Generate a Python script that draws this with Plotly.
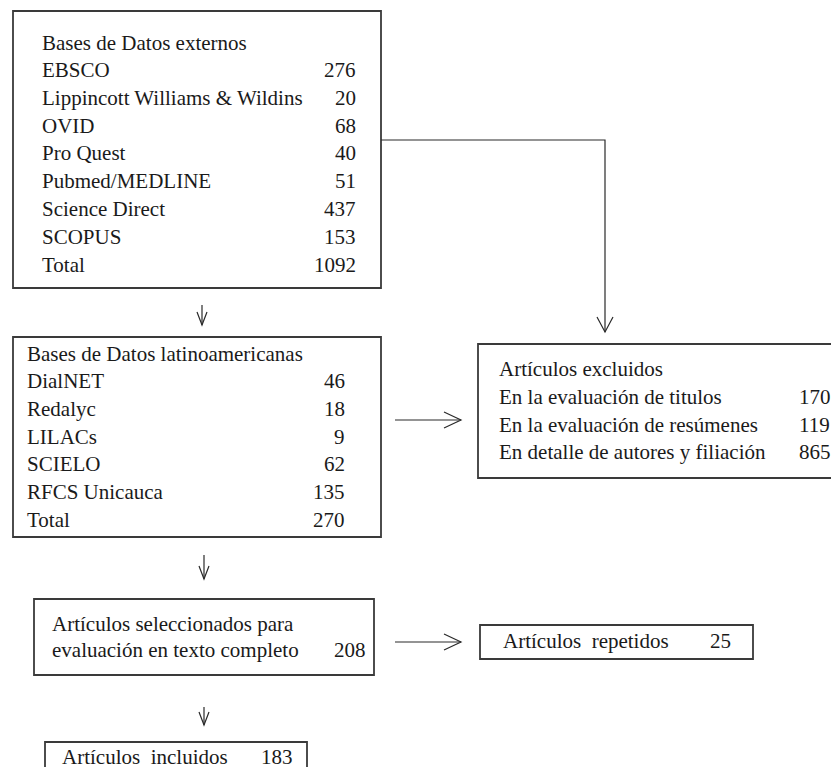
import plotly.graph_objects as go

# ---------------- data ----------------
ext_title = "Bases de Datos externos"
ext_names = ["EBSCO", "Lippincott Williams & Wildins", "OVID", "Pro Quest",
             "Pubmed/MEDLINE", "Science Direct", "SCOPUS", "Total"]
ext_values = [276, 20, 68, 40, 51, 437, 153, 1092]

lat_title = "Bases de Datos latinoamericanas"
lat_names = ["DialNET", "Redalyc", "LILACs", "SCIELO", "RFCS Unicauca", "Total"]
lat_values = [46, 18, 9, 62, 135, 270]

excl_title = "Artículos excluidos"
excl_names = ["En la evaluación de titulos", "En la evaluación de resúmenes",
              "En detalle de autores y filiación"]
excl_values = [170, 119, 865]

sel_lines = ["Artículos seleccionados para", "evaluación en texto completo"]
sel_value = 208
rep_label = "Artículos  repetidos"
rep_value = 25
inc_label = "Artículos  incluidos"
inc_value = 183

# ---------------- style ----------------
W, H = 831, 767
FONT = "Liberation Serif, Times New Roman, serif"
FS = 21
TXT = "#1a1a1a"
BOX = "#3a3a3a"
LINE = "#2a2a2a"

fig = go.Figure()
shapes = []
ann = []


def box(x0, y0, x1, y1):
    shapes.append(dict(type="rect", x0=x0, y0=y0, x1=x1, y1=y1,
                       line=dict(color=BOX, width=1.8), fillcolor="rgba(0,0,0,0)"))


def seg(pts):
    path = "M " + " L ".join(f"{x},{y}" for x, y in pts)
    shapes.append(dict(type="path", path=path, line=dict(color=LINE, width=1.2)))


def arrow_down(x, y0, y1):
    seg([(x, y0), (x, y1)])
    seg([(x - 5, y1 - 13), (x, y1), (x + 5, y1 - 13)])


def arrow_right(y, x0, x1):
    seg([(x0, y), (x1, y)])
    seg([(x1 - 17, y - 8), (x1, y), (x1 - 17, y + 8)])


def text(x, y, s, anchor="left"):
    ann.append(dict(x=x, y=y, text=s, showarrow=False, xanchor=anchor, yanchor="middle",
                    font=dict(family=FONT, size=FS, color=TXT)))


# Box 1: external databases
box(13, 11, 381, 288)
text(40, 43, ext_title)
for i, (n, v) in enumerate(zip(ext_names, ext_values)):
    y = 70 + i * 27.8
    text(40, y, n)
    text(358, y, str(v), "right")

# Box 2: latin american databases
box(13, 337, 381, 537)
text(25, 354, lat_title)
for i, (n, v) in enumerate(zip(lat_names, lat_values)):
    y = 381 + i * 27.8
    text(25, y, n)
    text(347, y, str(v), "right")

# Box excluded
box(478, 344, 840, 478)
text(497, 369, excl_title)
for i, (n, v) in enumerate(zip(excl_names, excl_values)):
    y = 397 + i * 27.6
    text(497, y, n)
    text(797, y, str(v))

# Box selected
box(34, 599, 374, 675)
text(50, 624, sel_lines[0])
text(50, 650, sel_lines[1])
text(368, 650, str(sel_value), "right")

# Box repeated
box(480, 625, 753, 659)
text(501, 641, rep_label)
text(708, 641, str(rep_value))

# Box included
box(45, 742, 307, 800)
text(60, 757, inc_label)
text(259, 757, str(inc_value))

# connectors
seg([(381, 140), (605, 140), (605, 332)])
seg([(597, 317), (605, 332), (613, 317)])
arrow_down(202, 305, 325)
arrow_down(204, 555, 579)
arrow_down(204, 707, 725)
arrow_right(420, 395, 461)
arrow_right(642, 395, 461)

fig.update_layout(
    width=W, height=H,
    margin=dict(l=0, r=0, t=0, b=0),
    paper_bgcolor="white", plot_bgcolor="white",
    xaxis=dict(range=[0, W], visible=False, fixedrange=True),
    yaxis=dict(range=[H, 0], visible=False, fixedrange=True),
    shapes=shapes, annotations=ann, showlegend=False,
)
fig.write_html(
    "out.html",
    config={"displayModeBar": False},
    post_script="document.body.style.margin='0';document.body.style.overflow='hidden';",
)
